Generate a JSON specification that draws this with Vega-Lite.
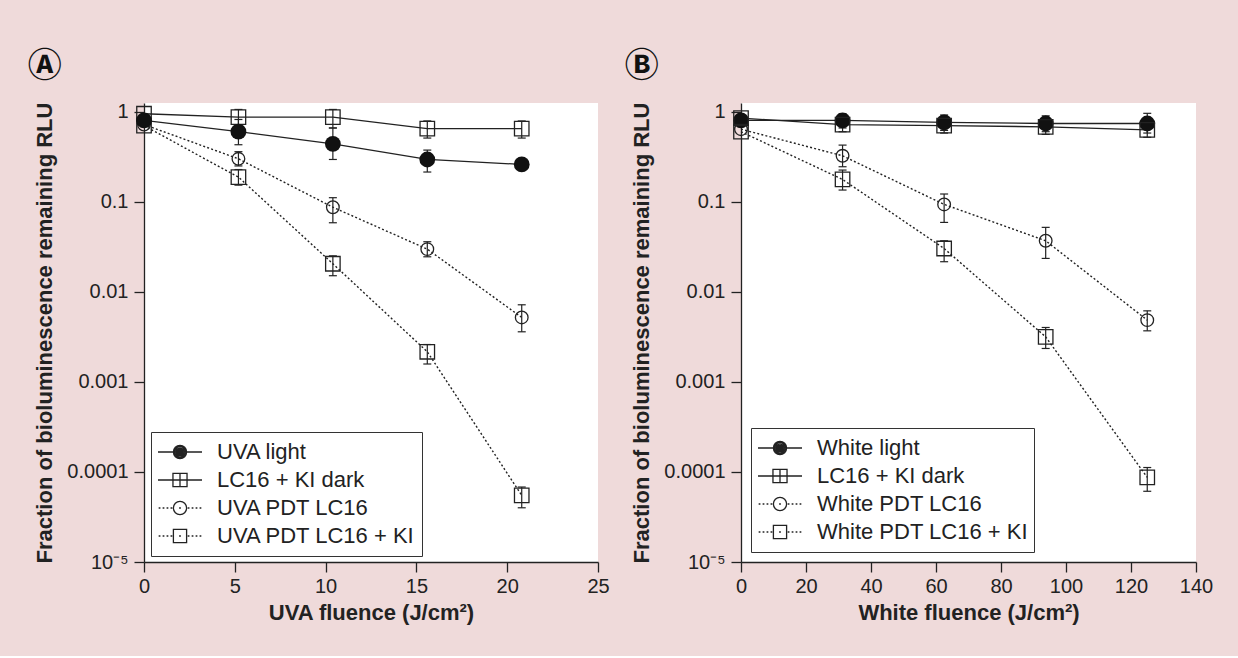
{
  "$schema": "https://vega.github.io/schema/vega-lite/v6.json",
  "background": "#efdada",
  "padding": {"left": 27, "top": 49, "right": 29, "bottom": 33},
  "bounds": "flush",
  "spacing": 143,
  "resolve": {"scale": {"shape": "independent", "x": "independent", "y": "independent"}, "legend": {"shape": "independent"}},
  "config": {
    "view": {"fill": "white", "stroke": null},
    "font": "Liberation Sans",
    "axis": {"labelFont": "Liberation Sans", "labelFontSize": 20, "labelColor": "#222", "titleFont": "Liberation Sans", "titleFontSize": 22, "titleFontWeight": "bold", "titleColor": "#222", "domainColor": "#222", "domainWidth": 1.3, "tickColor": "#222", "tickWidth": 1.3, "tickSize": 10, "grid": false, "labelPadding": 4, "titlePadding": 6},
    "axisY": {"labelPadding": 6, "titlePadding": 10},
    "axisX": {"labelFlush": false},
    "legend": {"symbolOpacity": 1},
    "title": {"anchor": "start", "frame": "bounds", "font": "DejaVu Sans, Noto Sans CJK SC", "fontSize": 34, "fontWeight": "bold", "color": "#111", "offset": 18, "dx": -6}
  },
  "datasets": {
    "uva": [
      {"series": "UVA light", "dose": 0, "rlu": 0.8},
      {"series": "UVA light", "dose": 5.2, "rlu": 0.6, "lo": 0.43, "hi": 0.82},
      {"series": "UVA light", "dose": 10.4, "rlu": 0.44, "lo": 0.295, "hi": 0.66},
      {"series": "UVA light", "dose": 15.6, "rlu": 0.295, "lo": 0.214, "hi": 0.375},
      {"series": "UVA light", "dose": 20.8, "rlu": 0.26, "lo": 0.24, "hi": 0.28},
      {"series": "LC16 + KI dark", "dose": 0, "rlu": 0.95},
      {"series": "LC16 + KI dark", "dose": 5.2, "rlu": 0.87, "lo": 0.71, "hi": 1.06},
      {"series": "LC16 + KI dark", "dose": 10.4, "rlu": 0.87, "lo": 0.66, "hi": 1.06},
      {"series": "LC16 + KI dark", "dose": 15.6, "rlu": 0.65, "lo": 0.51, "hi": 0.79},
      {"series": "LC16 + KI dark", "dose": 20.8, "rlu": 0.65, "lo": 0.51, "hi": 0.79},
      {"series": "UVA PDT LC16", "dose": 0, "rlu": 0.72},
      {"series": "UVA PDT LC16", "dose": 5.2, "rlu": 0.3, "lo": 0.25, "hi": 0.36},
      {"series": "UVA PDT LC16", "dose": 10.4, "rlu": 0.087, "lo": 0.0585, "hi": 0.111},
      {"series": "UVA PDT LC16", "dose": 15.6, "rlu": 0.0298, "lo": 0.0245, "hi": 0.036},
      {"series": "UVA PDT LC16", "dose": 20.8, "rlu": 0.0052, "lo": 0.0036, "hi": 0.00718},
      {"series": "UVA PDT LC16 + KI", "dose": 0, "rlu": 0.7},
      {"series": "UVA PDT LC16 + KI", "dose": 5.2, "rlu": 0.188, "lo": 0.153, "hi": 0.228},
      {"series": "UVA PDT LC16 + KI", "dose": 10.4, "rlu": 0.0205, "lo": 0.0151, "hi": 0.0251},
      {"series": "UVA PDT LC16 + KI", "dose": 15.6, "rlu": 0.00216, "lo": 0.00158, "hi": 0.0026},
      {"series": "UVA PDT LC16 + KI", "dose": 20.8, "rlu": 0.000055, "lo": 0.00004, "hi": 0.000068}
    ],
    "white": [
      {"series": "White light", "dose": 0, "rlu": 0.8},
      {"series": "White light", "dose": 31.25, "rlu": 0.8, "lo": 0.66, "hi": 0.95},
      {"series": "White light", "dose": 62.5, "rlu": 0.76, "lo": 0.62, "hi": 0.92},
      {"series": "White light", "dose": 93.75, "rlu": 0.74, "lo": 0.6, "hi": 0.9},
      {"series": "White light", "dose": 125, "rlu": 0.74, "lo": 0.58, "hi": 0.96},
      {"series": "LC16 + KI dark", "dose": 0, "rlu": 0.85},
      {"series": "LC16 + KI dark", "dose": 31.25, "rlu": 0.72, "lo": 0.6, "hi": 0.86},
      {"series": "LC16 + KI dark", "dose": 62.5, "rlu": 0.7, "lo": 0.58, "hi": 0.84},
      {"series": "LC16 + KI dark", "dose": 93.75, "rlu": 0.68, "lo": 0.56, "hi": 0.82},
      {"series": "LC16 + KI dark", "dose": 125, "rlu": 0.63, "lo": 0.52, "hi": 0.76},
      {"series": "White PDT LC16", "dose": 0, "rlu": 0.64},
      {"series": "White PDT LC16", "dose": 31.25, "rlu": 0.324, "lo": 0.245, "hi": 0.426},
      {"series": "White PDT LC16", "dose": 62.5, "rlu": 0.0935, "lo": 0.059, "hi": 0.122},
      {"series": "White PDT LC16", "dose": 93.75, "rlu": 0.0369, "lo": 0.0235, "hi": 0.052},
      {"series": "White PDT LC16", "dose": 125, "rlu": 0.00485, "lo": 0.00369, "hi": 0.00615},
      {"series": "White PDT LC16 + KI", "dose": 0, "rlu": 0.6},
      {"series": "White PDT LC16 + KI", "dose": 31.25, "rlu": 0.177, "lo": 0.135, "hi": 0.225},
      {"series": "White PDT LC16 + KI", "dose": 62.5, "rlu": 0.0303, "lo": 0.0216, "hi": 0.0369},
      {"series": "White PDT LC16 + KI", "dose": 93.75, "rlu": 0.00316, "lo": 0.00235, "hi": 0.00402},
      {"series": "White PDT LC16 + KI", "dose": 125, "rlu": 0.000087, "lo": 0.000061, "hi": 0.000112}
    ]
  },
  "hconcat": [
    {
      "title": {"text": "Ⓐ"},
      "width": 454,
      "height": 459,
      "data": {"name": "uva"},
      "encoding": {
        "x": {"field": "dose", "type": "quantitative", "title": "UVA fluence (J/cm²)", "scale": {"domain": [0, 25], "nice": false, "zero": false}, "axis": {"values": [0, 5, 10, 15, 20, 25]}},
        "y": {"field": "rlu", "type": "quantitative", "title": "Fraction of bioluminescence remaining RLU", "scale": {"type": "log", "domain": [0.00001, 1.25], "nice": false}, "axis": {"values": [0.00001, 0.0001, 0.001, 0.01, 0.1, 1], "labelExpr": "datum.value < 0.00005 ? '10⁻⁵' : toString(datum.value)"}}
      },
      "layer": [
        {"transform": [{"filter": "indexof(datum.series, 'PDT') < 0"}], "mark": {"type": "line", "color": "#222", "strokeWidth": 1.3}, "encoding": {"detail": {"field": "series"}}},
        {"transform": [{"filter": "indexof(datum.series, 'PDT') >= 0"}], "mark": {"type": "line", "color": "#222", "strokeWidth": 1.4, "strokeDash": [2, 2.2]}, "encoding": {"detail": {"field": "series"}}},
        {"transform": [{"filter": "isValid(datum.lo)"}], "mark": {"type": "rule", "color": "#222", "strokeWidth": 1.2}, "encoding": {"y": {"field": "lo", "type": "quantitative", "title": "Fraction of bioluminescence remaining RLU", "scale": {"type": "log", "domain": [0.00001, 1.25], "nice": false}}, "y2": {"field": "hi"}}},
        {"transform": [{"filter": "isValid(datum.lo)"}], "mark": {"type": "tick", "orient": "horizontal", "color": "#222", "size": 8, "thickness": 1.2, "opacity": 1}, "encoding": {"y": {"field": "lo", "type": "quantitative", "title": "Fraction of bioluminescence remaining RLU", "scale": {"type": "log", "domain": [0.00001, 1.25], "nice": false}}}},
        {"transform": [{"filter": "isValid(datum.hi)"}], "mark": {"type": "tick", "orient": "horizontal", "color": "#222", "size": 8, "thickness": 1.2, "opacity": 1}, "encoding": {"y": {"field": "hi", "type": "quantitative", "title": "Fraction of bioluminescence remaining RLU", "scale": {"type": "log", "domain": [0.00001, 1.25], "nice": false}}}},
        {"transform": [{"filter": "indexof(datum.series, 'PDT') >= 0 && indexof(datum.series, 'KI') < 0"}], "mark": {"type": "point", "shape": "circle", "filled": false, "color": "#222", "strokeWidth": 1.3, "size": 160, "opacity": 1}},
        {"transform": [{"filter": "indexof(datum.series, 'KI') >= 0"}], "mark": {"type": "point", "shape": "square", "filled": false, "color": "#222", "strokeWidth": 1.3, "size": 210, "opacity": 1}},
        {"transform": [{"filter": "indexof(datum.series, 'light') >= 0"}], "mark": {"type": "point", "shape": "circle", "filled": true, "color": "#111", "size": 250, "opacity": 1}},
        {"mark": {"type": "point", "color": "#222", "opacity": 0},
         "encoding": {"shape": {"field": "series", "type": "nominal",
           "scale": {"domain": ["UVA light", "LC16 + KI dark", "UVA PDT LC16", "UVA PDT LC16 + KI"],
             "range": [
               "M-1,0L-0.3,0M0.3,0L1,0M0.3,0A0.3,0.3 0 1,1 -0.3,0A0.3,0.3 0 1,1 0.3,0ZM0.24,0A0.24,0.24 0 1,1 -0.24,0A0.24,0.24 0 1,1 0.24,0ZM0.18,0A0.18,0.18 0 1,1 -0.18,0A0.18,0.18 0 1,1 0.18,0ZM0.12,0A0.12,0.12 0 1,1 -0.12,0A0.12,0.12 0 1,1 0.12,0ZM0.06,0A0.06,0.06 0 1,1 -0.06,0A0.06,0.06 0 1,1 0.06,0ZM-0.03,0L0.03,0",
               "M-1,0L1,0M-0.32,-0.3L0.32,-0.3L0.32,0.3L-0.32,0.3ZM0,-0.3L0,0.3",
               "M-0.97,0L-0.89,0M-0.79,0L-0.71,0M-0.61,0L-0.53,0M-0.43,0L-0.35,0M0.35,0L0.43,0M0.53,0L0.61,0M0.71,0L0.79,0M0.89,0L0.97,0M0.3,0A0.3,0.3 0 1,1 -0.3,0A0.3,0.3 0 1,1 0.3,0ZM-0.04,0L0.04,0",
               "M-0.97,0L-0.89,0M-0.79,0L-0.71,0M-0.61,0L-0.53,0M-0.43,0L-0.35,0M0.35,0L0.43,0M0.53,0L0.61,0M0.71,0L0.79,0M0.89,0L0.97,0M-0.3,-0.3L0.3,-0.3L0.3,0.3L-0.3,0.3ZM-0.04,0L0.04,0"
             ]},
           "legend": {"title": null, "orient": "none", "legendX": 7, "legendY": 329, "direction": "vertical", "symbolSize": 1936, "symbolStrokeColor": "#222", "symbolFillColor": "transparent", "symbolStrokeWidth": 1.3, "symbolOpacity": 1, "labelFont": "Liberation Sans", "labelFontSize": 22, "labelColor": "#222", "labelOffset": 14, "labelLimit": 400, "clipHeight": 28, "rowPadding": 0, "padding": 6, "strokeColor": "#333", "fillColor": "white"}}}}
      ]
    },
    {
      "title": {"text": "Ⓑ"},
      "width": 455,
      "height": 459,
      "data": {"name": "white"},
      "encoding": {
        "x": {"field": "dose", "type": "quantitative", "title": "White fluence (J/cm²)", "scale": {"domain": [0, 140], "nice": false, "zero": false}, "axis": {"values": [0, 20, 40, 60, 80, 100, 120, 140]}},
        "y": {"field": "rlu", "type": "quantitative", "title": "Fraction of bioluminescence remaining RLU", "scale": {"type": "log", "domain": [0.00001, 1.25], "nice": false}, "axis": {"values": [0.00001, 0.0001, 0.001, 0.01, 0.1, 1], "labelExpr": "datum.value < 0.00005 ? '10⁻⁵' : toString(datum.value)"}}
      },
      "layer": [
        {"transform": [{"filter": "indexof(datum.series, 'PDT') < 0"}], "mark": {"type": "line", "color": "#222", "strokeWidth": 1.3}, "encoding": {"detail": {"field": "series"}}},
        {"transform": [{"filter": "indexof(datum.series, 'PDT') >= 0"}], "mark": {"type": "line", "color": "#222", "strokeWidth": 1.4, "strokeDash": [2, 2.2]}, "encoding": {"detail": {"field": "series"}}},
        {"transform": [{"filter": "isValid(datum.lo)"}], "mark": {"type": "rule", "color": "#222", "strokeWidth": 1.2}, "encoding": {"y": {"field": "lo", "type": "quantitative", "title": "Fraction of bioluminescence remaining RLU", "scale": {"type": "log", "domain": [0.00001, 1.25], "nice": false}}, "y2": {"field": "hi"}}},
        {"transform": [{"filter": "isValid(datum.lo)"}], "mark": {"type": "tick", "orient": "horizontal", "color": "#222", "size": 8, "thickness": 1.2, "opacity": 1}, "encoding": {"y": {"field": "lo", "type": "quantitative", "title": "Fraction of bioluminescence remaining RLU", "scale": {"type": "log", "domain": [0.00001, 1.25], "nice": false}}}},
        {"transform": [{"filter": "isValid(datum.hi)"}], "mark": {"type": "tick", "orient": "horizontal", "color": "#222", "size": 8, "thickness": 1.2, "opacity": 1}, "encoding": {"y": {"field": "hi", "type": "quantitative", "title": "Fraction of bioluminescence remaining RLU", "scale": {"type": "log", "domain": [0.00001, 1.25], "nice": false}}}},
        {"transform": [{"filter": "indexof(datum.series, 'PDT') >= 0 && indexof(datum.series, 'KI') < 0"}], "mark": {"type": "point", "shape": "circle", "filled": false, "color": "#222", "strokeWidth": 1.3, "size": 160, "opacity": 1}},
        {"transform": [{"filter": "indexof(datum.series, 'light') >= 0"}], "mark": {"type": "point", "shape": "circle", "filled": true, "color": "#111", "size": 250, "opacity": 1}},
        {"transform": [{"filter": "indexof(datum.series, 'KI') >= 0"}], "mark": {"type": "point", "shape": "square", "filled": false, "color": "#222", "strokeWidth": 1.3, "size": 210, "opacity": 1}},
        {"mark": {"type": "point", "color": "#222", "opacity": 0},
         "encoding": {"shape": {"field": "series", "type": "nominal",
           "scale": {"domain": ["White light", "LC16 + KI dark", "White PDT LC16", "White PDT LC16 + KI"],
             "range": [
               "M-1,0L-0.3,0M0.3,0L1,0M0.3,0A0.3,0.3 0 1,1 -0.3,0A0.3,0.3 0 1,1 0.3,0ZM0.24,0A0.24,0.24 0 1,1 -0.24,0A0.24,0.24 0 1,1 0.24,0ZM0.18,0A0.18,0.18 0 1,1 -0.18,0A0.18,0.18 0 1,1 0.18,0ZM0.12,0A0.12,0.12 0 1,1 -0.12,0A0.12,0.12 0 1,1 0.12,0ZM0.06,0A0.06,0.06 0 1,1 -0.06,0A0.06,0.06 0 1,1 0.06,0ZM-0.03,0L0.03,0",
               "M-1,0L1,0M-0.32,-0.3L0.32,-0.3L0.32,0.3L-0.32,0.3ZM0,-0.3L0,0.3",
               "M-0.97,0L-0.89,0M-0.79,0L-0.71,0M-0.61,0L-0.53,0M-0.43,0L-0.35,0M0.35,0L0.43,0M0.53,0L0.61,0M0.71,0L0.79,0M0.89,0L0.97,0M0.3,0A0.3,0.3 0 1,1 -0.3,0A0.3,0.3 0 1,1 0.3,0ZM-0.04,0L0.04,0",
               "M-0.97,0L-0.89,0M-0.79,0L-0.71,0M-0.61,0L-0.53,0M-0.43,0L-0.35,0M0.35,0L0.43,0M0.53,0L0.61,0M0.71,0L0.79,0M0.89,0L0.97,0M-0.3,-0.3L0.3,-0.3L0.3,0.3L-0.3,0.3ZM-0.04,0L0.04,0"
             ]},
           "legend": {"title": null, "orient": "none", "legendX": 10, "legendY": 325, "direction": "vertical", "symbolSize": 1936, "symbolStrokeColor": "#222", "symbolFillColor": "transparent", "symbolStrokeWidth": 1.3, "symbolOpacity": 1, "labelFont": "Liberation Sans", "labelFontSize": 22, "labelColor": "#222", "labelOffset": 14, "labelLimit": 400, "clipHeight": 28, "rowPadding": 0, "padding": 6, "strokeColor": "#333", "fillColor": "white"}}}}
      ]
    }
  ]
}
